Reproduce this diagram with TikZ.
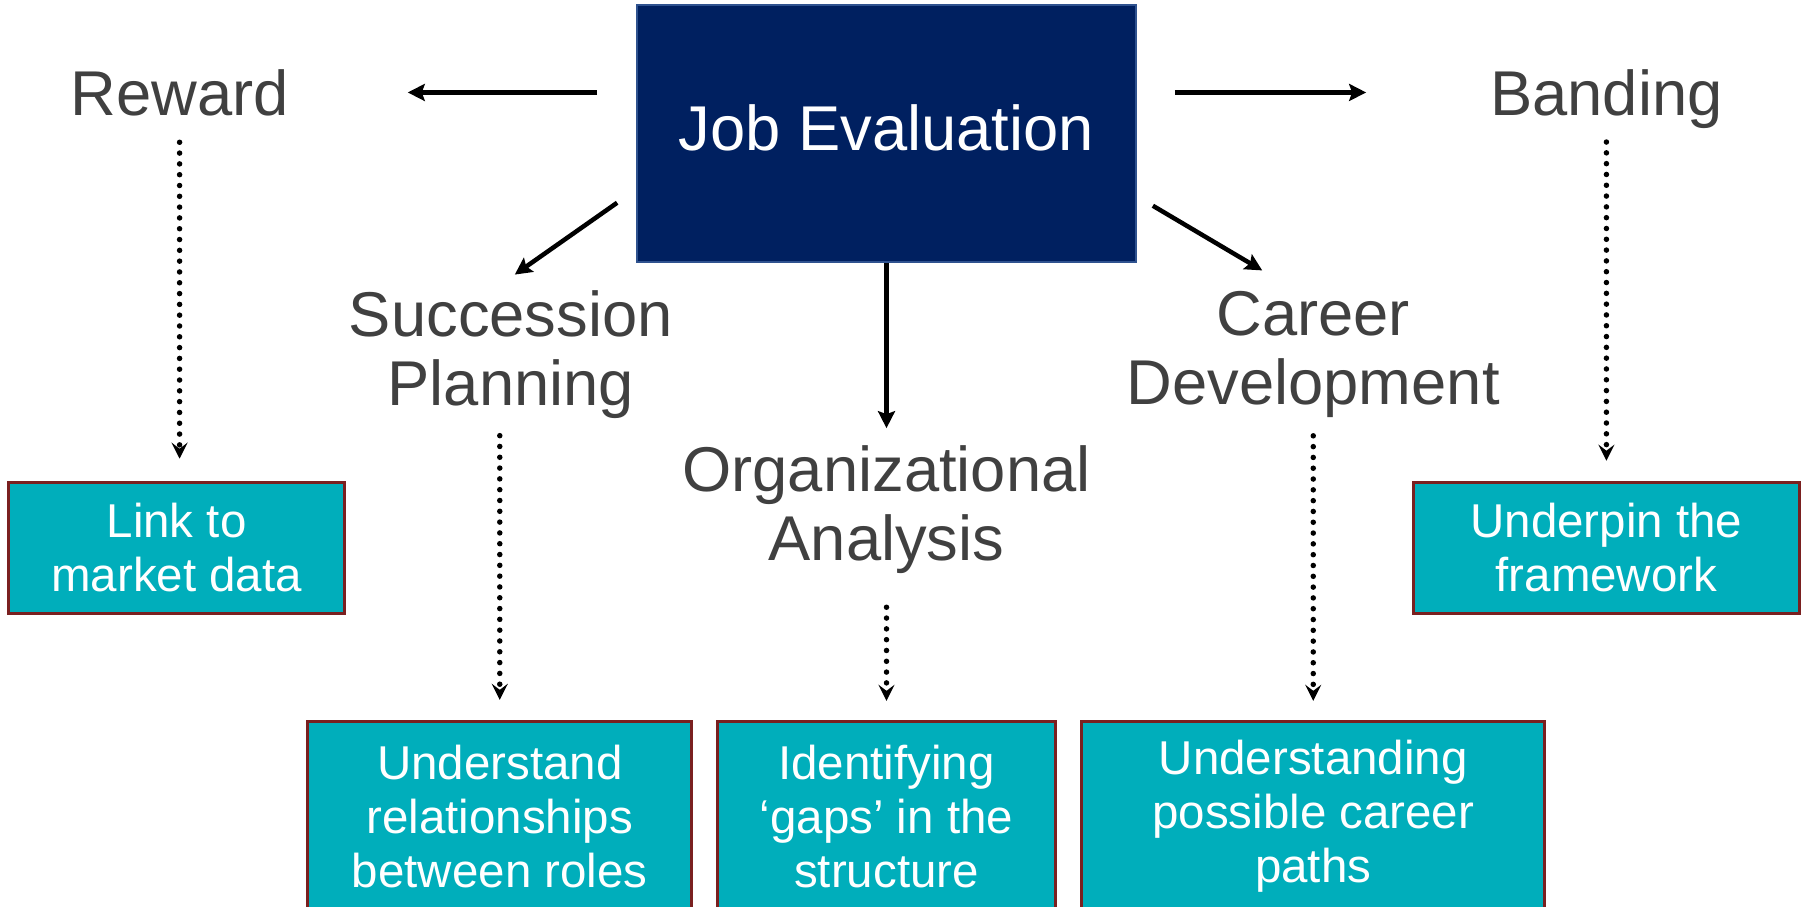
\documentclass[tikz,border=0pt]{standalone}
\usepackage{fontspec}
\setmainfont{Liberation Sans}
\usetikzlibrary{arrows.meta,positioning}
\definecolor{evalnavy}{RGB}{0,32,96}
\definecolor{evalrim}{RGB}{47,82,143}
\definecolor{outcometeal}{RGB}{0,174,187}
\definecolor{outcomerim}{RGB}{122,32,32}
\definecolor{topicgrey}{RGB}{64,64,64}
\tikzset{
     eval box/.style = {rectangle, fill=evalnavy, draw=evalrim, line width=0.4pt, text=white,
        minimum width=4.99cm, minimum height=2.57cm, inner sep=0pt, text depth=0.12cm,
        font=\fontsize{18}{20}\selectfont},
     topic node/.style = {align=center, inner sep=0pt, text=topicgrey, font=\fontsize{18}{19.6}\selectfont},
     outcome/.style = {rectangle, fill=outcometeal, draw=outcomerim, line width=0.85pt, text=white,
        align=center, inner sep=0pt, font=\fontsize{13.5}{15.4}\selectfont},
      leadedge/.style = {black, line width=0.045cm, -{Stealth[length=0.17cm,width=0.17cm,inset=0.03cm]}},
      dotedge/.style = {black, line width=0.055cm, line cap=round, dash pattern=on 0pt off 0.108cm,
        -{Stealth[length=0.16cm,width=0.16cm,inset=0.06cm]}},
    }

\begin{document}
\begin{tikzpicture}[x=0.01cm,y=-0.01cm,node distance=3cm,on grid,semithick]
        \useasboundingbox (0,0) rectangle (1803,907);
        \clip (0,0) rectangle (1803,907);
        \node [eval box] (jobeval) at (886.5,133.5) {Job Evaluation};
        \node [topic node] (reward) [above left=0.41cm and 7.065cm of jobeval] {Reward};
        \node [topic node] (banding) [above right=0.345cm and 7.195cm of jobeval] {Banding};
        \node [topic node] (succession) [below left=2.21cm and 3.755cm of jobeval] {Succession\\Planning};
        \node [topic node] (career) [below right=2.21cm and 4.265cm of jobeval] {Career\\Development};
        \node [topic node] (org) [below=3.76cm of jobeval] {Organizational\\Analysis};
        % outcome boxes
        \node [outcome, minimum width=3.36cm, minimum height=1.31cm] (market) [below left=4.55cm and 0.03cm of reward] {Link to\\market data};
        \node [outcome, minimum width=3.85cm, minimum height=1.31cm] (framework) [below=4.485cm of banding] {Underpin the\\framework};
        \node [outcome, minimum width=3.84cm, minimum height=1.9cm] (roles) [below left=4.615cm and 0.11cm of succession] {Understand\\relationships\\between roles};
        \node [outcome, minimum width=3.38cm, minimum height=1.9cm] (gaps) [below=3.065cm of org] {Identifying\\‘gaps’ in the\\structure};
        \node [outcome, minimum width=4.63cm, minimum height=1.9cm] (paths) [below=4.615cm of career] {Understanding\\possible career\\paths};
        \path
        (jobeval.west |- reward) edge[leadedge, shorten <=0.39cm, shorten >=1.18cm] (reward.east)
        (jobeval.east |- reward) edge[leadedge, shorten <=0.38cm, shorten >=1.23cm] (banding.west |- reward)
        ([xshift=-0.19cm,yshift=0.6cm]jobeval.south west) edge[leadedge] ([xshift=0.04cm,yshift=0.15cm]succession.north)
        ([xshift=0.16cm,yshift=0.57cm]jobeval.south east) edge[leadedge] ([xshift=-0.51cm,yshift=0.2cm]career.north)
        (jobeval.south) edge[leadedge, shorten >=0.165cm] (org.north);
        % dotted links down to the outcomes
        \path
        (reward.south) edge[dotedge, shorten <=0.255cm, shorten >=0.22cm] (reward.south |- market.north)
        (banding.south) edge[dotedge, shorten <=0.125cm, shorten >=0.2cm] (banding.south |- framework.north)
        (roles.north |- succession.south) edge[dotedge, shorten <=0.16cm, shorten >=0.2cm] (roles.north)
        (org.south) edge[dotedge, shorten <=0.325cm, shorten >=0.19cm] (gaps.north)
        (career.south) edge[dotedge, shorten <=0.17cm, shorten >=0.19cm] (paths.north);
    \end{tikzpicture}
\end{document}
